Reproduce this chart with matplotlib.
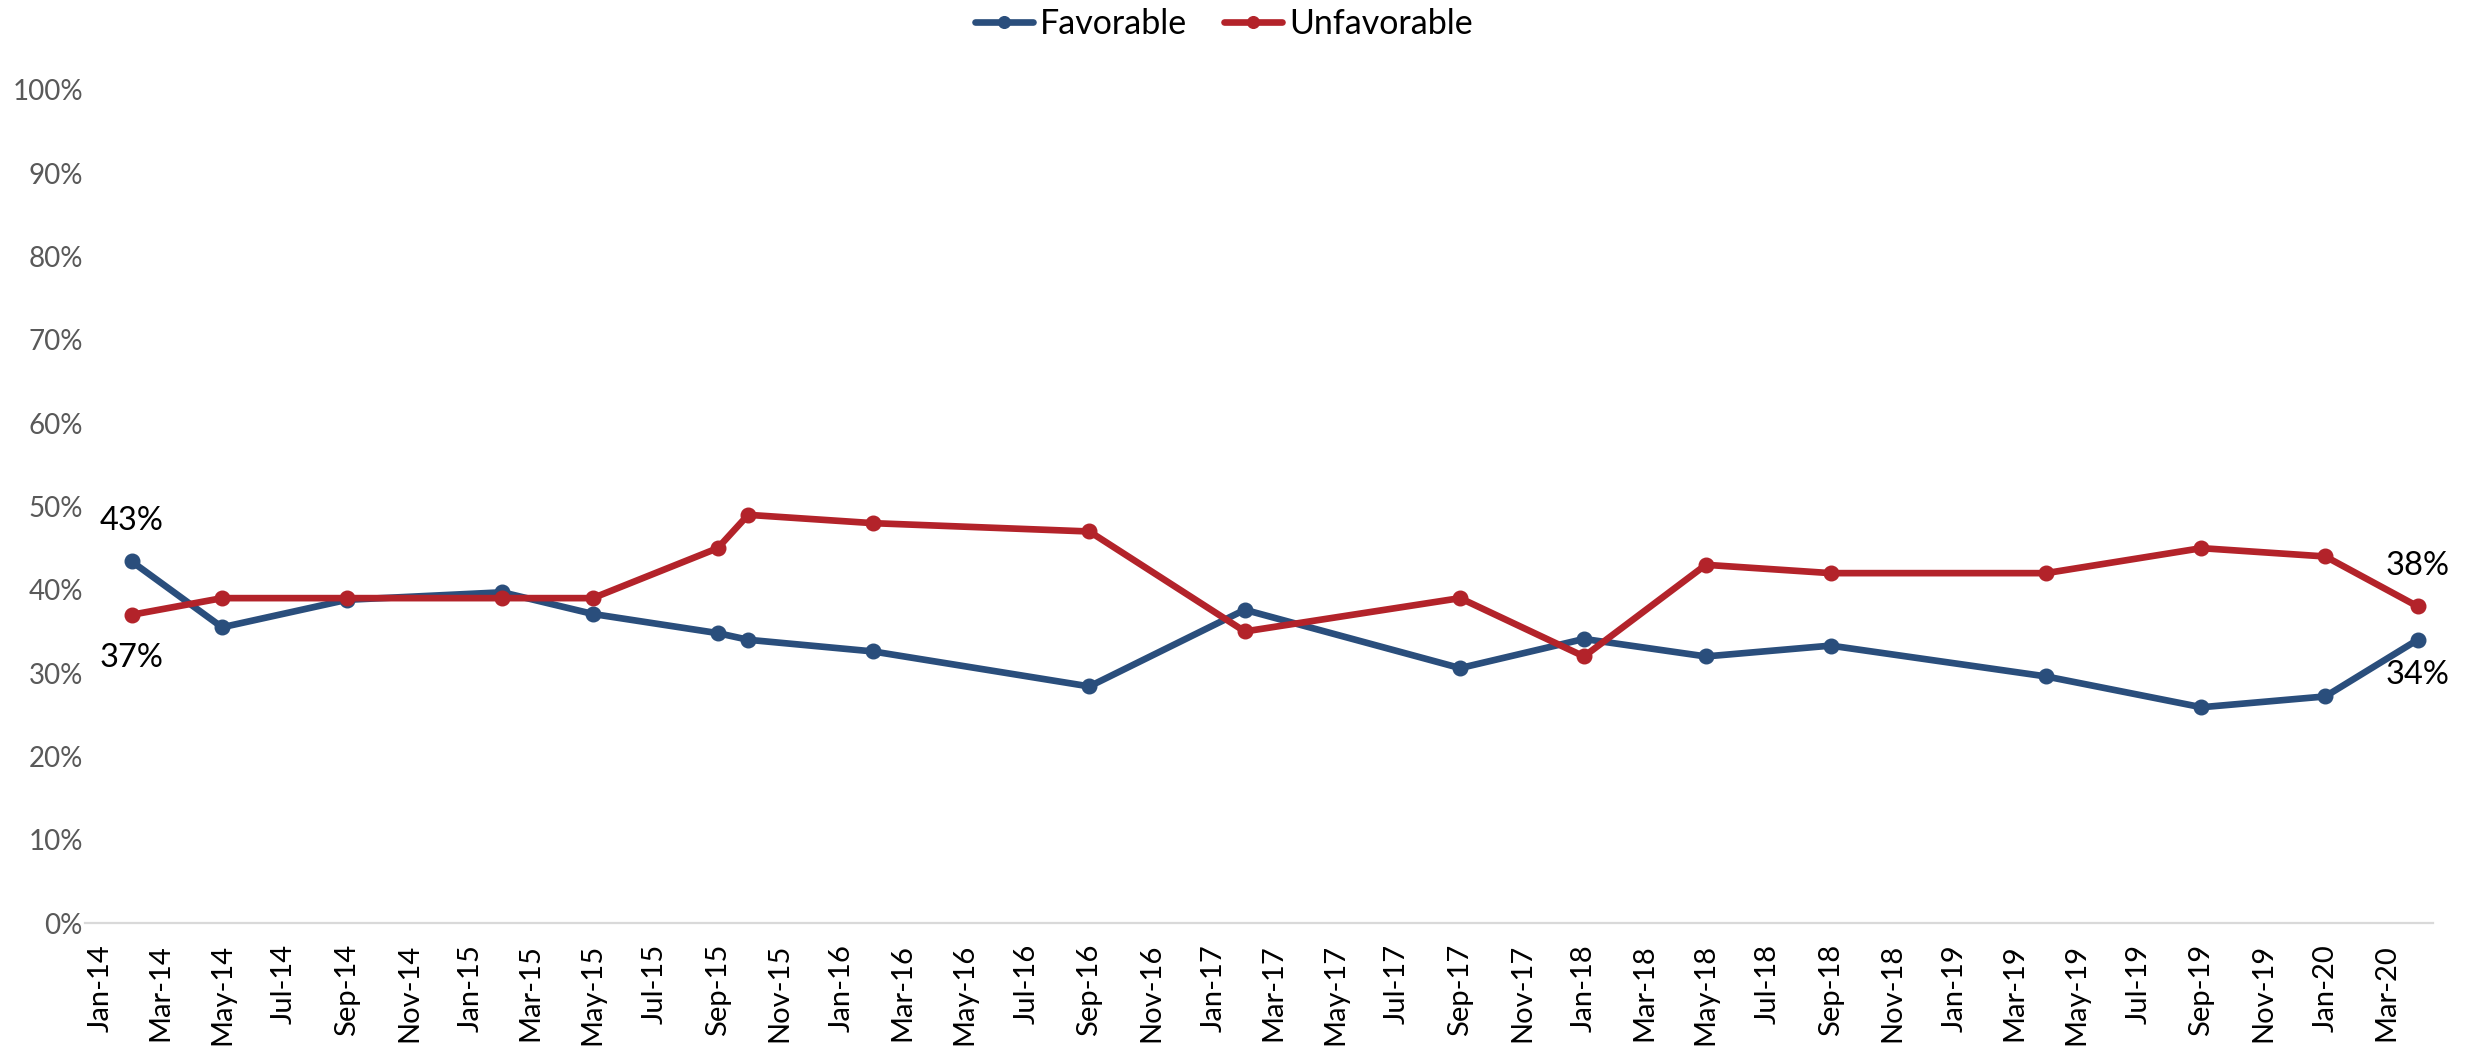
import matplotlib
matplotlib.use("Agg")
import matplotlib.pyplot as plt
import matplotlib.dates as mdates
from matplotlib.ticker import FuncFormatter, MultipleLocator
import pandas as pd

plt.rcParams['font.family'] = ['Lato', 'DejaVu Sans']

# ---- data ----
dates = ['2014-02', '2014-05', '2014-09', '2015-02', '2015-05', '2015-09',
         '2015-10', '2016-02', '2016-09', '2017-02', '2017-09', '2018-01',
         '2018-05', '2018-09', '2019-04', '2019-09', '2020-01', '2020-04']
favorable = [43.4, 35.5, 38.8, 39.7, 37.1, 34.8, 34.0, 32.6, 28.4, 37.6,
             30.6, 34.1, 32.0, 33.3, 29.6, 25.9, 27.2, 34.0]
unfavorable = [37, 39, 39, 39, 39, 45, 49, 48, 47, 35, 39, 32, 43, 42, 42,
               45, 44, 38]
series_names = ['Favorable', 'Unfavorable']
colors = ['#2A4E7C', '#B3232A']

x = pd.to_datetime(dates)

W, H = 2468, 1048
fig = plt.figure(figsize=(W / 100, H / 100), dpi=100)
L, R, B, T = 85, 2433, 923, 90
ax = fig.add_axes([L / W, 1 - B / H, (R - L) / W, (B - T) / H])

lines = []
for vals, name, c in zip([favorable, unfavorable], series_names, colors):
    ln, = ax.plot(x, vals, color=c, lw=4.8, marker='o', ms=10.5,
                  solid_capstyle='round', label=name)
    lines.append(ln)

# data labels for first and last points
lab_kw = dict(textcoords='offset pixels', ha='center', va='center',
              fontsize=23.5, color='#000000')
ax.annotate(f'{favorable[0]:.0f}%', (x[0], favorable[0]), xytext=(0, 40), **lab_kw)
ax.annotate(f'{unfavorable[0]:.0f}%', (x[0], unfavorable[0]), xytext=(0, -43), **lab_kw)
ax.annotate(f'{unfavorable[-1]:.0f}%', (x[-1], unfavorable[-1]), xytext=(0, 40), **lab_kw)
ax.annotate(f'{favorable[-1]:.0f}%', (x[-1], favorable[-1]), xytext=(0, -35), **lab_kw)

# axes
ax.set_ylim(0, 100)
ax.yaxis.set_major_locator(MultipleLocator(10))
ax.yaxis.set_major_formatter(FuncFormatter(lambda v, p: f'{v:.0f}%'))
ax.set_xlim(pd.Timestamp('2013-12-17'), pd.Timestamp('2020-04-16'))
ax.xaxis.set_major_locator(mdates.MonthLocator(bymonth=[1, 3, 5, 7, 9, 11]))
ax.xaxis.set_major_formatter(mdates.DateFormatter('%b-%y'))

for s in ['top', 'right', 'left']:
    ax.spines[s].set_visible(False)
ax.spines['bottom'].set_color('#D9D9D9')
ax.spines['bottom'].set_linewidth(1.6)

ax.tick_params(axis='y', length=0, pad=1.5, labelsize=20, labelcolor='#595959')
ax.tick_params(axis='x', length=0, pad=15, labelsize=21, labelcolor='#000000',
               labelrotation=90)

fig.legend(handles=lines, loc='center', bbox_to_anchor=(1224 / W, 1 - 24 / H),
           ncol=2, frameon=False, fontsize=24.5, handlelength=1.7,
           handletextpad=0.2, columnspacing=1.1, markerscale=0.8)

fig.savefig('out.png', dpi=100)
